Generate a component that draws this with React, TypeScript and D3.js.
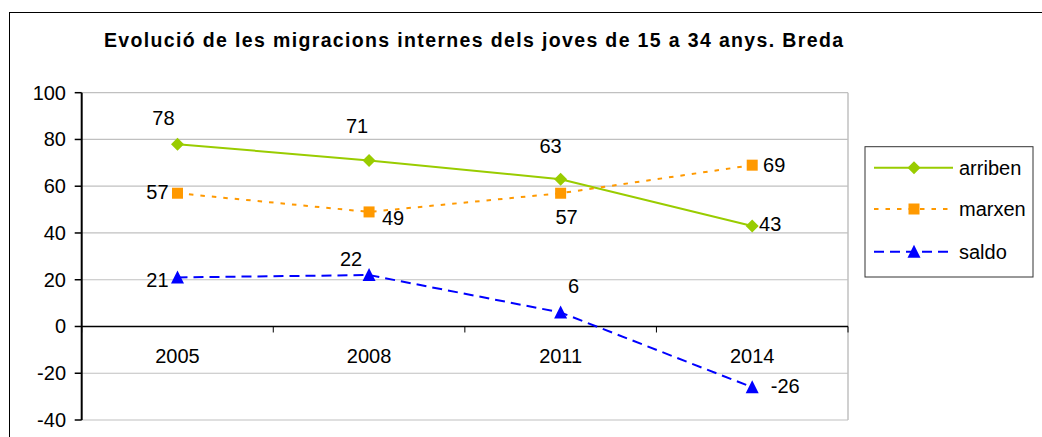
import React from "react";
import * as d3 from "d3";

const title = "Evolució de les migracions internes dels joves de 15 a 34 anys. Breda";
const years = ["2005", "2008", "2011", "2014"];
const arriben = [78, 71, 63, 43];
const marxen = [57, 49, 57, 69];
const saldo = [21, 22, 6, -26];
const yTicks = [-40, -20, 0, 20, 40, 60, 80, 100];
const seriesNames = ["arriben", "marxen", "saldo"];

// label offsets (dx, dy) from each point, pixels
const arribenLabelPos = [[-14, -26], [-12, -34], [-10, -33], [18, -2]];
const marxenLabelPos = [[-20, -1], [24, 6], [6, 24], [22, 0]];
const saldoLabelPos = [[-20, 3], [-18, -16], [13, -26], [33, -1]];

const FONT = "'Liberation Sans', Arial, sans-serif";

export default function App() {
  const W = 1042, H = 437;
  const left = 81.7, right = 848, top = 92.7, bottom = 420;
  const x = d3.scaleBand<string>().domain(years).range([left, right]).padding(0);
  const y = d3.scaleLinear().domain([-40, 100]).range([bottom, top]);
  const cx = (i: number) => (x(years[i]) as number) + x.bandwidth() / 2;

  const line = d3.line<number>().x((_, i) => cx(i)).y((d) => y(d));

  const series = [
    { name: seriesNames[0], values: arriben, color: "#99CC00", dash: "none", marker: "diamond", labels: arribenLabelPos },
    { name: seriesNames[1], values: marxen, color: "#FF9900", dash: "4.5,7", marker: "square", labels: marxenLabelPos },
    { name: seriesNames[2], values: saldo, color: "#0000FF", dash: "10,6", marker: "triangle", labels: saldoLabelPos },
  ];

  const drawMarker = (type: string, px: number, py: number, color: string, key: string) => {
    if (type === "diamond") {
      const r = 6.5;
      return <path key={key} d={`M${px},${py - r}L${px + r},${py}L${px},${py + r}L${px - r},${py}Z`} fill={color} />;
    }
    if (type === "square") {
      const s = 11;
      return <rect key={key} x={px - s / 2} y={py - s / 2} width={s} height={s} fill={color} />;
    }
    const w = 13, h = 12;
    return <path key={key} d={`M${px},${py - h / 2 - 1}L${px + w / 2},${py + h / 2}L${px - w / 2},${py + h / 2}Z`} fill={color} />;
  };

  const legendX = 865, legendY = 146.7, legendW = 168, legendH = 130.3;
  const legendRows = [167.7, 209, 251.7];

  return (
    <svg width={W} height={H} style={{ position: "absolute", left: 0, top: 0, background: "#fff" }} fontFamily={FONT}>
      <rect x={0} y={0} width={W} height={H} fill="#fff" />
      {/* outer chart border */}
      <rect x={9.5} y={12.5} width={W + 20} height={H + 20} fill="none" stroke="#000" strokeWidth={1} />
      {/* title */}
      <text x={104} y={47} fontSize={19.5} fontWeight="bold" fill="#000" textLength={739} lengthAdjust="spacing">
        {title}
      </text>

      {/* gridlines */}
      {yTicks.map((t) => (
        <line key={"g" + t} x1={left} x2={right} y1={y(t)} y2={y(t)} stroke="#C0C0C0" strokeWidth={1.2} />
      ))}
      {/* plot area right border */}
      <line x1={right} x2={right} y1={top} y2={bottom} stroke="#C0C0C0" strokeWidth={1.5} />
      {/* zero line */}
      <line x1={left} x2={right} y1={y(0)} y2={y(0)} stroke="#000" strokeWidth={1.3} />
      {/* x ticks */}
      {years.map((yr, i) => (
        <line key={"xt" + i} x1={x(yr) as number} x2={x(yr) as number} y1={y(0)} y2={y(0) + 6} stroke="#000" strokeWidth={1} />
      ))}
      <line x1={right} x2={right} y1={y(0)} y2={y(0) + 6} stroke="#000" strokeWidth={1} />
      {/* y axis */}
      <line x1={left} x2={left} y1={top} y2={bottom} stroke="#000" strokeWidth={2} />
      {yTicks.map((t) => (
        <g key={"yt" + t}>
          <line x1={left - 7} x2={left} y1={y(t)} y2={y(t)} stroke="#000" strokeWidth={1.5} />
          <text x={66} y={y(t)} textAnchor="end" dominantBaseline="central" fontSize={20} fill="#000">
            {t}
          </text>
        </g>
      ))}
      {/* category labels */}
      {years.map((yr, i) => (
        <text key={"cl" + i} x={cx(i)} y={356} textAnchor="middle" dominantBaseline="central" fontSize={20} fill="#000">
          {yr}
        </text>
      ))}

      {/* series */}
      {series.map((s) => (
        <g key={s.name}>
          <path d={line(s.values) as string} fill="none" stroke={s.color} strokeWidth={2} strokeDasharray={s.dash} />
          {s.values.map((v, i) => drawMarker(s.marker, cx(i), y(v), s.color, s.name + i))}
          {s.values.map((v, i) => (
            <text
              key={s.name + "l" + i}
              x={cx(i) + s.labels[i][0]}
              y={y(v) + s.labels[i][1]}
              textAnchor="middle"
              dominantBaseline="central"
              fontSize={20}
              fill="#000"
            >
              {v}
            </text>
          ))}
        </g>
      ))}

      {/* legend */}
      <rect x={legendX} y={legendY} width={legendW} height={legendH} fill="#fff" stroke="#333" strokeWidth={1} />
      {series.map((s, i) => (
        <g key={"lg" + s.name}>
          <line x1={874} x2={953} y1={legendRows[i]} y2={legendRows[i]} stroke={s.color} strokeWidth={2} strokeDasharray={s.dash} />
          {drawMarker(s.marker, 914, legendRows[i], s.color, "lm" + i)}
          <text x={959} y={legendRows[i]} dominantBaseline="central" fontSize={20} fill="#000">
            {s.name}
          </text>
        </g>
      ))}
    </svg>
  );
}
